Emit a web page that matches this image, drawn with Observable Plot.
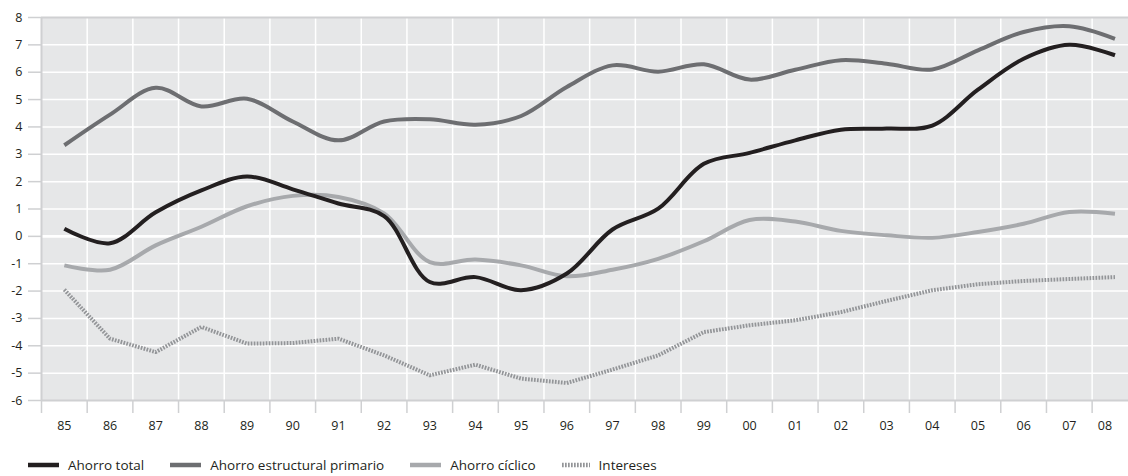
<!DOCTYPE html>
<html>
<head>
<meta charset="utf-8">
<script src="https://cdn.jsdelivr.net/npm/d3@7"></script>
<script src="https://cdn.jsdelivr.net/npm/@observablehq/plot@0.6"></script>
<style>
  html, body { margin: 0; padding: 0; background: #ffffff; }
  #chart svg { display: block; }
  .legend {
    display: flex; align-items: center; height: 22px; padding: 9px 0 0 28px;
    font-family: "Open Sans", sans-serif; font-size: 13.5px; color: #231f20;
  }
  .legend .item { display: flex; align-items: center; margin-right: 26px; }
  .legend svg { margin-right: 9px; display: block; }
</style>
</head>
<body>
<div id="chart"></div>
<div class="legend" id="legend"></div>
<script>
// Years shown along the bottom axis (1985–2008)
const years = ["85", "86", "87", "88", "89", "90", "91", "92", "93", "94", "95", "96",
               "97", "98", "99", "00", "01", "02", "03", "04", "05", "06", "07", "08"];

// Series values (% del PIB)
const ahorroTotal = [0.28, -0.25, 0.88, 1.68, 2.19, 1.72, 1.2, 0.74, -1.67, -1.49, -1.97, -1.36,
                     0.25, 1.01, 2.65, 3.05, 3.51, 3.9, 3.94, 4.05, 5.36, 6.49, 7.0, 6.62];
const ahorroEstructural = [3.33, 4.45, 5.43, 4.75, 5.03, 4.2, 3.51, 4.2, 4.28, 4.08, 4.4, 5.46,
                           6.25, 6.02, 6.29, 5.73, 6.09, 6.44, 6.31, 6.1, 6.8, 7.47, 7.68, 7.22];
const ahorroCiclico = [-1.06, -1.22, -0.33, 0.35, 1.1, 1.48, 1.44, 0.84, -0.94, -0.85, -1.06, -1.46,
                       -1.22, -0.82, -0.18, 0.6, 0.54, 0.2, 0.04, -0.05, 0.16, 0.46, 0.89, 0.83];
const intereses = [-1.95, -3.74, -4.23, -3.31, -3.92, -3.9, -3.74, -4.35, -5.08, -4.69, -5.2, -5.36,
                   -4.87, -4.35, -3.5, -3.25, -3.07, -2.77, -2.36, -1.97, -1.75, -1.63, -1.56, -1.49];

// Y axis ticks
const yTicks = [-6, -5, -4, -3, -2, -1, 0, 1, 2, 3, 4, 5, 6, 7, 8];

const series = [
  {name: "Ahorro total", values: ahorroTotal, color: "#231f20", curve: "catmull-rom", dash: null},
  {name: "Ahorro estructural primario", values: ahorroEstructural, color: "#6d6e71", curve: "catmull-rom", dash: null},
  {name: "Ahorro cíclico", values: ahorroCiclico, color: "#a7a9ac", curve: "catmull-rom", dash: null},
  {name: "Intereses", values: intereses, color: "#939598", curve: "linear", dash: "1.7,1.3"}
];

const idx = years.map((d, i) => i);
const bandEdges = idx.map(i => i - 0.5);          // band boundaries (tick marks)
const innerEdges = idx.slice(1).map(i => i - 0.5); // vertical grid lines
const lastIdx = idx[idx.length - 1];
const gridColor = "#ffffff";
const borderColor = "#cfd0d2";

const W = 1128, H = 445;
const step = 45.68;

const lineMarks = series.map(s =>
  Plot.line(s.values.map((v, i) => ({i, v})), {
    x: "i", y: "v",
    stroke: s.color, strokeWidth: 4,
    curve: s.curve,
    strokeDasharray: s.dash ?? undefined,
    strokeLinecap: "butt"
  })
);

const chart = Plot.plot({
  width: W,
  height: H,
  marginLeft: 41,
  marginRight: 0,
  marginTop: 17,
  marginBottom: 45,
  style: {fontFamily: "'Open Sans', sans-serif", fontSize: "12.5px", color: "#231f20", background: "transparent"},
  x: {type: "linear", domain: [-0.5, 23.5], range: [41, 41 + 24 * step], axis: null},
  y: {domain: [-6, 8], axis: null},
  marks: [
    Plot.frame({fill: "#e6e7e8", stroke: null}),
    Plot.ruleY(yTicks.filter(d => d !== 0 && d !== 8 && d !== -6), {stroke: gridColor, strokeWidth: 1.5}),
    Plot.ruleX(innerEdges, {stroke: gridColor, strokeWidth: 1.5}),
    Plot.ruleY([0], {stroke: gridColor, strokeWidth: 2.8}),
    Plot.ruleY([8, -6], {stroke: borderColor, strokeWidth: 2}),
    Plot.ruleX([-0.5], {stroke: borderColor, strokeWidth: 2}),
    ...lineMarks.slice().reverse(),
    Plot.axisY(yTicks, {label: null, tickSize: 13, tickPadding: 6, stroke: borderColor, strokeWidth: 1.5, fill: "#231f20", tickFormat: d => String(d)}),
    Plot.axisX(bandEdges, {label: null, tickSize: 13, stroke: borderColor, strokeWidth: 1.5, tickFormat: () => ""}),
    Plot.axisX(idx.slice(0, -1), {label: null, tickSize: 0, tickPadding: 21, fill: "#231f20", tickFormat: i => years[i]}),
    // the final year label is nudged left so it stays inside the page
    Plot.axisX([lastIdx], {label: null, tickSize: 0, tickPadding: 21, dx: -10, fill: "#231f20", tickFormat: i => years[i]})
  ]
});
document.getElementById("chart").appendChild(chart);

// Legend below the plot
const legend = document.getElementById("legend");
series.forEach(s => {
  const item = document.createElement("div");
  item.className = "item";
  const w = s.dash ? 28 : 31;
  const sw = d3.create("svg").attr("width", w).attr("height", 6);
  sw.append("line").attr("x1", 0).attr("x2", w).attr("y1", 3).attr("y2", 3)
    .attr("stroke", s.color).attr("stroke-width", 4.5)
    .attr("stroke-dasharray", s.dash);
  item.appendChild(sw.node());
  const label = document.createElement("span");
  label.textContent = s.name;
  item.appendChild(label);
  legend.appendChild(item);
});
</script>
</body>
</html>
